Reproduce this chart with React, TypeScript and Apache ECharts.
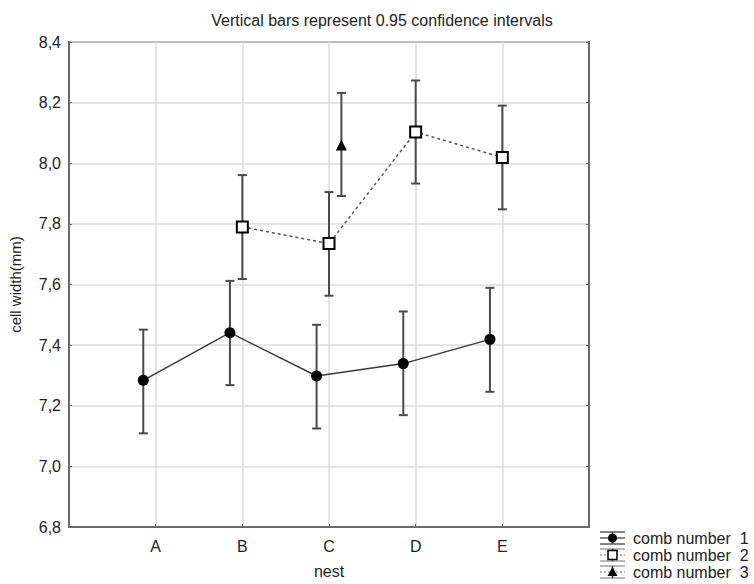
import React, { useEffect, useRef } from "react";
import * as echarts from "echarts";

const categories = ["A", "B", "C", "D", "E"];
const seriesNames = ["comb number  1", "comb number  2", "comb number  3"];

const mean1 = [7.284, 7.441, 7.298, 7.339, 7.419];
const low1 = [7.109, 7.268, 7.125, 7.169, 7.246];
const high1 = [7.451, 7.612, 7.467, 7.511, 7.589];

const mean2 = [null, 7.79, 7.735, 8.103, 8.019];
const low2 = [null, 7.618, 7.563, 7.933, 7.848];
const high2 = [null, 7.961, 7.905, 8.273, 8.19];

const mean3 = [null, null, 8.06, null, null];
const low3 = [null, null, 7.892, null, null];
const high3 = [null, null, 8.232, null, null];

const yTicks = [6.8, 7.0, 7.2, 7.4, 7.6, 7.8, 8.0, 8.2, 8.4];

const FONT = "'Liberation Sans', Arial, sans-serif";
const OFFSETS = [-0.143, 0, 0.143];

function points(mean: (number | null)[], off: number) {
  const out: number[][] = [];
  mean.forEach((v, i) => {
    if (v !== null) out.push([i + 1 + off, v]);
  });
  return out;
}
function bars(mean: (number | null)[], lo: (number | null)[], hi: (number | null)[], off: number) {
  const out: number[][] = [];
  mean.forEach((v, i) => {
    if (v !== null && lo[i] !== null && hi[i] !== null) out.push([i + 1 + off, lo[i] as number, hi[i] as number]);
  });
  return out;
}

const errColor = "#4a4a4a";
function renderErr(params: any, api: any) {
  const x = api.value(0);
  const top = api.coord([x, api.value(2)]);
  const bot = api.coord([x, api.value(1)]);
  const hw = 4.5;
  const st = { stroke: errColor, lineWidth: 2 };
  return {
    type: "group",
    children: [
      { type: "line", shape: { x1: top[0], y1: top[1], x2: bot[0], y2: bot[1] }, style: st },
      { type: "line", shape: { x1: top[0] - hw, y1: top[1], x2: top[0] + hw, y2: top[1] }, style: st },
      { type: "line", shape: { x1: bot[0] - hw, y1: bot[1], x2: bot[0] + hw, y2: bot[1] }, style: st },
    ],
  };
}

function legendRow(i: number, y: number) {
  const x0 = 600, x1 = 625, cx = 612.5;
  const children: any[] = [
    { type: "line", shape: { x1: x0, y1: y - 6, x2: x1, y2: y - 6 }, style: { stroke: i === 0 ? "#333" : "#888", lineWidth: 1.2 } },
    { type: "line", shape: { x1: x0, y1: y + 6, x2: x1, y2: y + 6 }, style: { stroke: i === 0 ? "#333" : "#888", lineWidth: 1.2 } },
    { type: "line", shape: { x1: x0, y1: y, x2: x1, y2: y }, style: { stroke: i === 0 ? "#333" : "#777", lineWidth: 1.2, lineDash: i === 0 ? null : [2, 2] } },
    { type: "line", shape: { x1: cx, y1: y - 6, x2: cx, y2: y + 6 }, style: { stroke: "#333", lineWidth: 1.5 } },
  ];
  if (i === 0) children.push({ type: "circle", shape: { cx, cy: y, r: 4.5 }, style: { fill: "#000" } });
  if (i === 1) children.push({ type: "rect", shape: { x: cx - 4.5, y: y - 4.5, width: 9, height: 9 }, style: { fill: "#fff", stroke: "#000", lineWidth: 1.5 } });
  if (i === 2) children.push({ type: "polygon", shape: { points: [[cx, y - 5], [cx + 5, y + 4], [cx - 5, y + 4]] }, style: { fill: "#000" } });
  children.push({
    type: "text",
    x: 633,
    y,
    style: { text: seriesNames[i], font: `16px ${FONT}`, fill: "#222", verticalAlign: "middle", textAlign: "left" },
  });
  return { type: "group", children };
}

export default function App() {
  const ref = useRef<HTMLDivElement>(null);
  useEffect(() => {
    if (!ref.current) return;
    const chart = echarts.init(ref.current, null, { renderer: "svg" });
    const axisLabelStyle = { color: "#222", fontSize: 16, fontFamily: FONT };
    chart.setOption({
      animation: false,
      backgroundColor: "#fff",
      title: {
        text: "Vertical bars represent 0.95 confidence intervals",
        left: 377,
        top: 7,
        textAlign: "center",
        textStyle: { fontSize: 16, fontWeight: "normal", color: "#222", fontFamily: FONT },
      },
      grid: { left: 63, top: 42, width: 526, height: 487, show: true, borderColor: "#6a6a6a", borderWidth: 2, backgroundColor: "transparent" },
      xAxis: {
        type: "value",
        min: 0,
        max: 6,
        interval: 1,
        name: "nest",
        nameLocation: "middle",
        nameGap: 36,
        nameTextStyle: { ...axisLabelStyle },
        axisLine: { show: true, lineStyle: { color: "#6a6a6a", width: 2 } },
        axisTick: { show: true, inside: true, length: 3, lineStyle: { color: "#6a6a6a" } },
        axisLabel: {
          ...axisLabelStyle,
          margin: 11,
          formatter: (v: number) => (v >= 1 && v <= 5 ? categories[Math.round(v) - 1] : ""),
        },
        splitLine: { show: true, lineStyle: { color: "#dcdcdc", width: 1.5 } },
      },
      yAxis: [
        {
          type: "value",
          min: yTicks[0],
          max: yTicks[yTicks.length - 1],
          interval: 0.2,
          name: "cell width(mm)",
          nameLocation: "middle",
          nameGap: 46,
          nameTextStyle: { ...axisLabelStyle, fontSize: 15 },
          axisLine: { show: true, lineStyle: { color: "#6a6a6a", width: 2 } },
          axisTick: { show: true, inside: true, length: 3, lineStyle: { color: "#6a6a6a" } },
          axisLabel: { ...axisLabelStyle, margin: 8, formatter: (v: number) => v.toFixed(1).replace(".", ",") },
          splitLine: { show: true, lineStyle: { color: "#dcdcdc", width: 1.5 } },
        },
        {
          type: "value",
          position: "right",
          min: yTicks[0],
          max: yTicks[yTicks.length - 1],
          interval: 0.2,
          axisLine: { show: true, lineStyle: { color: "#6a6a6a", width: 2 } },
          axisTick: { show: true, inside: true, length: 3, lineStyle: { color: "#6a6a6a" } },
          axisLabel: { show: false },
          splitLine: { show: false },
        },
      ],
      series: [
        { type: "custom", renderItem: renderErr, data: bars(mean1, low1, high1, OFFSETS[0]), encode: { x: 0, y: [1, 2] }, z: 2, silent: true },
        { type: "custom", renderItem: renderErr, data: bars(mean2, low2, high2, OFFSETS[1]), encode: { x: 0, y: [1, 2] }, z: 2, silent: true },
        { type: "custom", renderItem: renderErr, data: bars(mean3, low3, high3, OFFSETS[2]), encode: { x: 0, y: [1, 2] }, z: 2, silent: true },
        {
          name: seriesNames[0],
          type: "line",
          data: points(mean1, OFFSETS[0]),
          symbol: "circle",
          symbolSize: 11,
          itemStyle: { color: "#000" },
          lineStyle: { color: "#3a3a3a", width: 1.5 },
          z: 5,
        },
        {
          name: seriesNames[1],
          type: "line",
          data: points(mean2, OFFSETS[1]),
          symbol: "rect",
          symbolSize: 11,
          itemStyle: { color: "#fff", borderColor: "#000", borderWidth: 2 },
          lineStyle: { color: "#555", width: 1.5, type: [3, 3] },
          z: 5,
        },
        {
          name: seriesNames[2],
          type: "line",
          data: points(mean3, OFFSETS[2]),
          symbol: "triangle",
          symbolSize: 11,
          itemStyle: { color: "#000" },
          lineStyle: { width: 0 },
          z: 5,
        },
      ],
      graphic: [legendRow(0, 538), legendRow(1, 555), legendRow(2, 572)],
    });
    return () => chart.dispose();
  }, []);
  return <div ref={ref} style={{ position: "fixed", left: 0, top: 0, width: 754, height: 584 }} />;
}
